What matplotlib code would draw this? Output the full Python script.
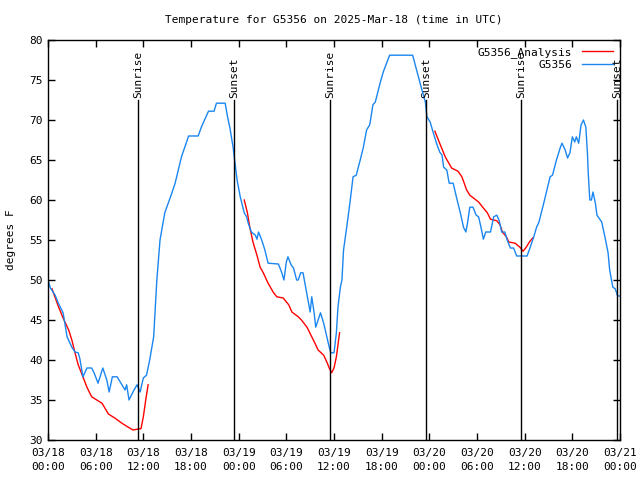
import matplotlib
matplotlib.use("Agg")
import matplotlib.pyplot as plt
import numpy as np

plt.rcParams['font.family'] = ['DejaVu Sans Mono']
plt.rcParams['font.size'] = 8

# hours since 2025-03-18 00:00 UTC
obs_hours = [0, 0.3, 0.9, 1.3, 1.9, 2.4, 3.0, 3.4, 3.8, 4.0, 4.4, 4.9, 5.5, 5.8, 6.3, 6.9, 7.4, 7.7,
             8.1, 8.7, 9.3, 9.7, 9.9, 10.2, 10.7, 11.2, 11.6, 12.0, 12.4, 12.8, 13.3, 13.7, 14.1,
             14.7, 15.6, 16.0, 16.8, 17.7, 18.9, 19.3, 20.2, 20.9, 21.2, 22.3, 22.6, 22.9, 23.3,
             23.5, 23.8, 24.2, 24.7, 25.0, 25.2, 25.6, 26.1, 26.3, 26.5, 26.9, 27.3, 27.7, 29.0,
             29.4, 29.7, 30.0, 30.2, 30.6, 30.9, 31.3, 31.5, 31.8, 32.1, 32.5, 32.8, 33.0, 33.2,
             33.5, 33.7, 34.0, 34.3, 34.7, 35.1, 35.4, 35.6, 36.0, 36.3, 36.5, 36.8, 37.0, 37.2,
             37.6, 38.0, 38.4, 38.8, 39.3, 39.7, 40.1, 40.5, 40.9, 41.2, 41.8, 42.2, 43.0, 45.9,
             46.4, 47.0, 47.5, 47.7, 48.1, 48.5, 48.9, 49.3, 49.6, 49.8, 50.2, 50.5, 51.0, 51.4,
             51.9, 52.3, 52.6, 52.8, 53.1, 53.5, 53.9, 54.2, 54.5, 54.8, 55.1, 55.7, 56.1, 56.5,
             56.8, 57.1, 57.5, 57.8, 58.2, 58.6, 59.0, 60.3, 60.7, 61.1, 61.5, 61.8, 62.4, 62.8,
             63.2, 63.5, 64.0, 64.5, 64.7, 65.1, 65.4, 65.7, 66.0, 66.3, 66.5, 66.8, 67.1, 67.4,
             67.7, 67.9, 68.0, 68.2, 68.4, 68.6, 68.9, 69.1, 69.7, 70.1, 70.5, 70.7, 71.1, 71.4,
             71.7, 72.0]
obs_temp = [50, 49, 48.1, 47.1, 45.9, 42.9, 41.6, 41, 40.9, 40.2, 37.9, 39, 39, 38.4, 37.1, 39, 37.5, 36,
            37.9, 37.9, 36.9, 36.25, 36.9, 35, 36, 36.9, 36, 37.75, 38.1, 40, 42.9, 50, 55,
            58.4, 60.9, 62.1, 65.4, 68, 68, 69.1, 71.1, 71.1, 72.1, 72.1, 70.4, 69, 66.6,
            65, 62.5, 60.4, 58.4, 57.9, 57.1, 56, 55.6, 55.1, 56, 55, 53.75, 52.1, 52,
            51, 50, 52.25, 52.9, 51.9, 51.5, 50, 50, 50.9, 50.9, 48.75, 47.1, 46, 47.9,
            45.9, 44.1, 45, 45.9, 44.6, 42.9, 41.6, 40.9, 40.9, 43.4, 46.6, 49.1, 50, 53.75,
            56.6, 59.6, 62.9, 63.1, 65, 66.6, 68.75, 69.4, 71.9, 72.25, 74.6, 76, 78.1, 78.1,
            76.25, 74, 72.25, 70.4, 69.75, 68.4, 67.1, 66, 65.6, 64.1, 63.75, 62.1, 62.1, 60.4,
            58.4, 56.6, 56, 57.1, 59.1, 59.1, 58.1, 57.9, 56.6, 55.1, 56, 56, 57.9, 58.1,
            57.4, 56, 56, 55, 54, 54, 53, 53, 54.1, 55.25, 56.6, 57.25, 59.6, 61.25,
            62.9, 63.1, 65, 66.6, 67.1, 66.25, 65.25, 65.9, 67.9, 67.25, 67.9, 67.1, 69.4, 70,
            69.1, 65.9, 63.4, 60, 60, 61, 59.6, 58.1, 57.25, 55.4, 53.4, 51.25, 49.1, 48.9,
            48, 48]

ana1_hours = [0.5, 1.3, 1.9, 2.6, 3.0, 3.4, 3.8, 4.2, 4.9, 5.5, 6.3, 6.8, 7.6, 8.4, 9.3, 10.1, 10.7,
              11.5, 11.7, 12.0, 12.3, 12.6]
ana1_temp = [48.9, 46.7, 45.25, 43.75, 42.5, 40.9, 39.4, 38.4, 36.6, 35.4, 34.9, 34.6, 33.25, 32.75,
             32.1, 31.6, 31.25, 31.4, 31.4, 32.9, 35, 36.9]
ana2_hours = [24.7, 25.1, 25.4, 25.8, 26.3, 26.7, 27.1, 27.7, 28.4, 28.8, 29.6, 30.3, 30.7, 31.5,
              31.9, 32.6, 33.2, 33.6, 34.0, 34.7, 35.1, 35.4, 35.7, 36.0, 36.3, 36.7]
ana2_temp = [60, 58.4, 56.6, 54.75, 53.1, 51.6, 50.9, 49.6, 48.4, 47.9, 47.75, 46.9, 46, 45.4,
             45, 44.1, 42.9, 42.1, 41.25, 40.6, 39.75, 39, 38.4, 39, 40.4, 43.4]
ana3_hours = [48.7, 49.3, 50.0, 50.8, 51.6, 52.1, 52.7, 53.1, 54.2, 54.8, 55.3, 55.7, 56.5, 56.9,
              57.2, 57.7, 58.0, 58.8, 59.4, 59.8, 60.2, 60.6, 61.0]
ana3_temp = [68.6, 67.1, 65.4, 64, 63.6, 62.9, 61.25, 60.6, 59.75, 59, 58.4, 57.6, 57.4, 56.9,
             56, 55.4, 54.75, 54.6, 54.1, 53.6, 54.1, 54.75, 55.25]

sun_hours = [11.33, 23.41, 35.5, 47.58, 59.54, 71.6]
sun_labels = ['Sunrise', 'Sunset', 'Sunrise', 'Sunset', 'Sunrise', 'Sunset']

tick_hours = list(range(0, 73, 6))
tick_labels = ['03/18\n00:00', '03/18\n06:00', '03/18\n12:00', '03/18\n18:00',
               '03/19\n00:00', '03/19\n06:00', '03/19\n12:00', '03/19\n18:00',
               '03/20\n00:00', '03/20\n06:00', '03/20\n12:00', '03/20\n18:00',
               '03/21\n00:00']

fig = plt.figure(figsize=(6.4, 4.8), dpi=100)
ax = fig.add_axes([48/640, 40/480, 572/640, 400/480])

red = '#ff0000'
blue = '#1a86f0'
ax.plot(ana1_hours, ana1_temp, color=red, lw=1, label='G5356_Analysis')
ax.plot(ana2_hours, ana2_temp, color=red, lw=1)
ax.plot(ana3_hours, ana3_temp, color=red, lw=1)
ax.plot(obs_hours, obs_temp, color=blue, lw=1, label='G5356')

for h, lab in zip(sun_hours, sun_labels):
    ax.plot([h, h], [30, 72.5], color='black', lw=1)
    ax.text(h, 72.8, lab, rotation=90, ha='center', va='bottom', fontsize=8)

ax.set_xlim(0, 72)
ax.set_ylim(30, 80)
ax.set_xticks(tick_hours)
ax.set_xticklabels(tick_labels, linespacing=1.45)
ax.set_yticks(range(30, 81, 5))
ax.tick_params(direction='in', length=5, top=True, right=True, width=1, pad=4)
ax.tick_params(axis='x', pad=6)
for s in ax.spines.values():
    s.set_linewidth(1)
ax.set_ylabel('degrees F')
ax.yaxis.set_label_coords((16 - 48) / 572, 0.5)
ax.set_title('Temperature for G5356 on 2025-Mar-18 (time in UTC)', fontsize=8, pad=12)

leg = ax.legend(loc='upper right', frameon=False, markerfirst=False, handlelength=2.8,
                borderaxespad=0.2, labelspacing=0.25, handletextpad=0.9)

fig.savefig('out.png', dpi=100)
